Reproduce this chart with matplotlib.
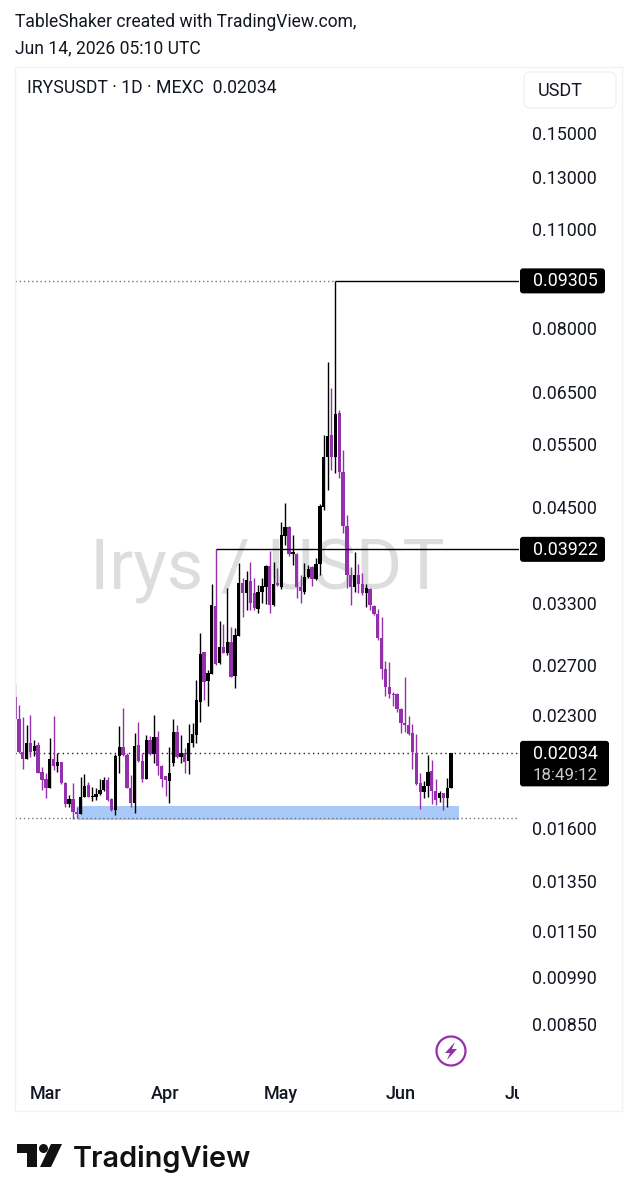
import numpy as np
import matplotlib
matplotlib.use("Agg")
import matplotlib.pyplot as plt
import matplotlib.dates as mdates
from matplotlib.patches import Rectangle, FancyBboxPatch, Ellipse, Polygon
from matplotlib.transforms import Bbox

# daily candles Feb 21 -> Jun 14 2026 (1e-5 USDT)
highs = [2542, 2376, 2288, 2228, 2301, 2123, 2112, 1948, 1907, 2139,
         2293, 2034, 1980, 1857, 1779, 1851, 1713, 1887, 1903, 1853,
         1827, 1817, 1871, 1883, 1883, 1760, 2027, 2221, 2351, 2034,
         1897, 2169, 2247, 2038, 2157, 2150, 2301, 2188, 1959, 1893,
         2073, 2269, 2228, 2157, 2067, 2233, 2240, 2575, 2992, 2821,
         2659, 3503, 3922, 3117, 3083, 3458, 3050, 3041, 3756, 3571,
         3661, 3768, 3571, 3496, 3571, 3728, 3904, 3768, 3696, 4281,
         4551, 4226, 4106, 3875, 3610, 3752, 3728, 3716, 3813, 4536,
         5664, 7164, 6589, 9305, 6138, 5397, 4379, 3704, 3887, 3740,
         3633, 3507, 3462, 3278, 3236, 3154, 2737, 2729, 2477, 2470,
         2353, 2600, 2293, 2235, 2164, 1909, 1861, 2023, 1991, 1873,
         1802, 1790, 1879, 2034]
lows = [2269, 2034, 1932, 1995, 2012, 2016, 1907, 1807, 1760, 1819,
        1928, 1917, 1843, 1713, 1709, 1645, 1652, 1673, 1769, 1765,
        1745, 1750, 1779, 1804, 1746, 1689, 1666, 1911, 2016, 1817,
        1713, 1677, 1980, 1857, 1871, 2023, 1969, 1897, 1823, 1773,
        1732, 1953, 2001, 1969, 1911, 1903, 2078, 2100, 2247, 2415,
        2368, 2625, 2702, 2708, 2806, 2791, 2603, 2507, 2967, 3150,
        3225, 3225, 3225, 3191, 3295, 3288, 3198, 3267, 3484, 3451,
        3976, 3837, 3728, 3352, 3299, 3396, 3575, 3484, 3552, 3610,
        4450, 4745, 5061, 5012, 4932, 4132, 3462, 3278, 3418, 3407,
        3385, 3257, 3225, 3174, 2929, 2583, 2446, 2430, 2368, 2323,
        2171, 2178, 2157, 1934, 1837, 1700, 1762, 1767, 1728, 1722,
        1739, 1695, 1711, 1819]
opens = [2441, 2269, 2045, 1995, 2100, 2051, 2089, 1913, 1871, 1819,
         1995, 1953, 1980, 1847, 1728, 1756, 1682, 1673, 1769, 1837,
         1767, 1765, 1784, 1807, 1867, 1754, 1695, 2019, 2073, 2023,
         1817, 1732, 2089, 1984, 1873, 2123, 2029, 2141, 1953, 1891,
         1863, 1969, 2181, 2012, 2034, 1986, 2100, 2157, 2402, 2815,
         2567, 2625, 3267, 2717, 2860, 2806, 2913, 2611, 2967, 3514,
         3403, 3545, 3410, 3236, 3418, 3477, 3716, 3278, 3514, 3473,
         4093, 4213, 3862, 3862, 3473, 3418, 3587, 3704, 3564, 3740,
         4493, 5277, 5664, 5277, 6079, 5028, 4226, 3610, 3473, 3610,
         3507, 3407, 3451, 3267, 3184, 2948, 2668, 2518, 2462, 2462,
         2346, 2242, 2228, 2171, 2036, 1849, 1796, 1831, 1921, 1802,
         1762, 1790, 1762, 1819]
closes = [2269, 2045, 1995, 2100, 2045, 2082, 1911, 1867, 1817, 1995,
          1953, 1980, 1847, 1728, 1756, 1682, 1673, 1765, 1831, 1769,
          1773, 1784, 1807, 1867, 1750, 1695, 2019, 2073, 2023, 1819,
          1732, 2082, 1986, 1875, 2123, 2029, 2141, 1953, 1871, 1867,
          1911, 2181, 2012, 2034, 1980, 2100, 2164, 2415, 2800, 2561,
          2631, 3278, 2711, 2860, 2812, 2913, 2603, 2976, 3514, 3410,
          3552, 3302, 3243, 3418, 3484, 3716, 3278, 3507, 3496, 4106,
          4213, 3862, 3887, 3473, 3429, 3587, 3680, 3564, 3740, 4507,
          5277, 5646, 5277, 6060, 5028, 4226, 3610, 3473, 3610, 3507,
          3407, 3462, 3278, 3184, 2948, 2668, 2518, 2462, 2454, 2346,
          2242, 2228, 2164, 2043, 1843, 1796, 1831, 1915, 1802, 1750,
          1790, 1762, 1819, 2034]

price_ticks = [0.15, 0.13, 0.11, 0.08, 0.065, 0.055, 0.045, 0.033, 0.027,
               0.023, 0.016, 0.0135, 0.0115, 0.0099, 0.0085]
month_ticks = ["2026-03-01", "2026-04-01", "2026-05-01", "2026-06-01", "2026-07-01"]
month_labels = ["Mar", "Apr", "May", "Jun", "Jul"]

swing_high = 0.09305
mid_level = 0.03922
last_price = 0.02034
swing_low = 0.01650
zone_low, zone_high = 0.01643, 0.01715
zone_start, zone_end = "2026-03-09", "2026-06-16"
mid_start = "2026-04-14"
high_start = "2026-05-15"

PURPLE = "#9430AC"
INK = "#131722"
W, H = 636, 1200
FONT = "Roboto"

def to_num(d):
    return mdates.date2num(np.datetime64(d))

opens_p, closes_p = np.array(opens) / 1e5, np.array(closes) / 1e5
highs_p, lows_p = np.array(highs) / 1e5, np.array(lows) / 1e5
days = mdates.date2num(np.datetime64("2026-02-21")) + np.arange(len(opens))
colors = [("#000000" if c >= o else PURPLE) for o, c in zip(opens_p, closes_p)]

fig = plt.figure(figsize=(W / 100, H / 100), dpi=100, facecolor="white")

# price pane, pixel box 15..519 x 67..1075
ax = fig.add_axes([15 / W, 1 - 1075 / H, 504 / W, 1008 / H])
ax.set_yscale("log")
ax.set_xlim(days[0], days[0] + 130.6)
ax.set_ylim(0.007225, 0.1852)
for s in ax.spines.values():
    s.set_visible(False)

ax.text((267 - 15) / 504, 1 - (570 - 67) / 1008, "Irys / USDT", transform=ax.transAxes,
        fontsize=51, color="#DCDDDF", family=FONT, ha="center", va="center", zorder=0)

ax.fill_between([to_num(zone_start), to_num(zone_end)], zone_low, zone_high,
                color="#A9C9F8", lw=0, zorder=1)

ax.vlines(days, lows_p, highs_p, colors=colors, lw=1.0, zorder=3)
ax.bar(days, np.abs(closes_p - opens_p), width=0.86,
       bottom=np.minimum(opens_p, closes_p), color=colors, lw=0, zorder=4)

right = ax.get_xlim()[1]
ax.hlines(swing_high, days[0], to_num(high_start), color="#777777", lw=1, ls=(0, (1, 2)), zorder=2)
ax.hlines(last_price, days[0], right, color="#222222", lw=1, ls=(0, (1, 2.4)), zorder=2)
ax.hlines(swing_low, days[0], right - 0.5, color="#777777", lw=1, ls=(0, (1, 2)), zorder=2)
ax.hlines(swing_high, to_num(high_start), right, color="black", lw=1, zorder=5)
ax.hlines(mid_level, to_num(mid_start), right, color="black", lw=1, zorder=5)

ax.yaxis.tick_right()
ax.set_yticks(price_ticks)
ax.set_yticklabels([f"{p:.5f}" for p in price_ticks], fontsize=12.9, family=FONT, color=INK)
ax.minorticks_off()
ax.tick_params(axis="y", which="both", length=0, pad=9.4)
ax.set_xticks([to_num(d) for d in month_ticks])
ax.set_xticklabels(month_labels, fontsize=13, family=FONT, fontweight=500, color=INK)
ax.tick_params(axis="x", length=0, pad=7.2)
# last month label runs into the price scale and gets cut there
ax.get_xticklabels()[-1].set_clip_box(Bbox([[0, 0], [519, H]]))
ax.get_xticklabels()[-1].set_clip_on(True)

# overlay in pixel coords for header, labels and logo
ov = fig.add_axes([0, 0, 1, 1], facecolor="none")
ov.set_xlim(0, W)
ov.set_ylim(H, 0)
ov.axis("off")

ov.add_patch(Rectangle((14.5, 66.5), 607, 1044, fc="none", ec="#F0F2F5", lw=1))
ov.text(15, 22, "TableShaker created with TradingView.com,", fontsize=12.65, family=FONT,
        color=INK, va="center")
ov.text(15, 48, "Jun 14, 2026 05:10 UTC", fontsize=12.65, family=FONT, color=INK, va="center")
ov.text(27, 88, "IRYSUSDT · 1D · MEXC  0.02034", fontsize=12.7, family=FONT, color=INK, va="center")

ov.add_patch(FancyBboxPatch((524, 72), 92, 36, boxstyle="round,pad=0,rounding_size=6",
                            fc="white", ec="#F0F2F5", lw=1))
ov.text(538, 90.5, "USDT", fontsize=13, family=FONT, color=INK, va="center")

def y_of(price):
    return H - ax.transData.transform((days[0], price))[1]

def price_tag(price, txt, x1=605, extra=None):
    y = y_of(price)
    h0, h1 = 12.5, 12.5
    if extra:
        h1 = 33
    ov.add_patch(FancyBboxPatch((520, y - h0), x1 - 520, h0 + h1,
                                boxstyle="round,pad=0,rounding_size=3", fc="black", ec="none", zorder=6))
    ov.text(533, y + 0.5, txt, fontsize=12.9, family=FONT, color="white", va="center", zorder=7)
    if extra:
        ov.text(533, y + 22, extra, fontsize=12.2, family=FONT, color="#C9CBD0", va="center", zorder=7)

price_tag(swing_high, "0.09305")
price_tag(mid_level, "0.03922")
price_tag(last_price, "0.02034", x1=609, extra="18:49:12")

# snapshot bolt badge
ov.add_patch(Ellipse((451, 1051), 29, 29, fc="none", ec=PURPLE, lw=1.6))
ov.add_patch(Polygon([(455, 1042), (445, 1053), (450, 1053), (447, 1060), (457, 1049), (452, 1049)],
                     fc=PURPLE, ec="none"))

# TradingView logo
ov.add_patch(Polygon([(17, 1144), (37, 1144), (37, 1167), (27, 1167), (27, 1153), (17, 1153)],
                     fc="#111111", ec="none"))
ov.add_patch(Ellipse((43.5, 1148.5), 9, 9, fc="#111111", ec="none"))
ov.add_patch(Polygon([(51, 1144), (62, 1144), (51, 1167), (40, 1167)], fc="#111111", ec="none"))
ov.text(73, 1167, "TradingView", fontsize=20.8, family="Inter", fontweight=600, color="#111111", va="baseline")

fig.savefig("out.png", dpi=100)
